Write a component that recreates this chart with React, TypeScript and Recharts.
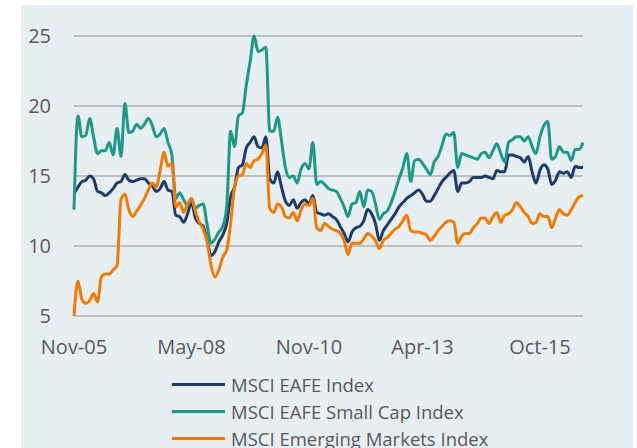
import React from 'react';
import { LineChart, Line, XAxis, YAxis, CartesianGrid, Legend } from 'recharts';

const MONTH_NAMES = ['Jan', 'Feb', 'Mar', 'Apr', 'May', 'Jun', 'Jul', 'Aug', 'Sep', 'Oct', 'Nov', 'Dec'];

// Monthly categories Nov-05 .. Sep-16
const months: string[] = [];
for (let k = 0; k < 131; k++) {
  const m = (10 + k) % 12;
  const y = 2005 + Math.floor((10 + k) / 12);
  months.push(`${MONTH_NAMES[m]}-${String(y % 100).padStart(2, '0')}`);
}

const xTicks = ['Nov-05', 'May-08', 'Nov-10', 'Apr-13', 'Oct-15'];
const yTicks = [5, 10, 15, 20, 25];

const eafe = [
  13.75, 14.2, 14.6, 14.7, 15.0, 14.8, 13.9, 13.8, 13.6, 13.8,
  14.1, 14.5, 14.6, 15.1, 14.7, 14.6, 14.7, 14.8, 14.8, 14.5,
  14.3, 13.9, 14.1, 14.6, 14.0, 13.9, 12.2, 12.1, 11.7, 12.3,
  13.1, 12.0, 11.6, 11.4, 10.4, 9.3, 9.6, 10.3, 10.8, 11.6,
  13.5, 14.2, 15.6, 15.8, 17.0, 17.4, 17.8, 17.1, 17.0, 17.8,
  14.8, 14.5, 15.3, 14.2, 13.2, 12.9, 13.3, 12.7, 13.1, 13.3,
  13.0, 13.6, 12.4, 12.3, 12.2, 12.3, 12.1, 11.9, 11.4, 10.9,
  10.3, 11.0, 11.3, 11.4, 11.8, 12.6, 12.3, 11.6, 10.4, 11.1,
  11.5, 11.9, 12.3, 12.8, 13.1, 13.4, 13.6, 13.8, 14.0, 13.7,
  13.2, 13.2, 13.6, 14.1, 14.6, 14.9, 15.2, 15.4, 13.9, 14.5,
  14.5, 14.6, 14.9, 14.9, 14.9, 15.0, 14.9, 14.8, 15.4, 15.3,
  15.3, 16.5, 16.5, 16.4, 16.3, 16.0, 16.4, 15.3, 14.5, 15.4,
  15.8, 15.5, 14.4, 14.7, 15.3, 15.2, 15.3, 14.9, 15.7, 15.6,
  15.6,
];

const smallCap = [
  12.6, 19.3, 17.8, 17.9, 19.1, 17.8, 16.6, 16.8, 16.8, 17.4,
  16.5, 18.4, 16.4, 20.2, 18.1, 18.2, 18.7, 18.4, 18.7, 19.1,
  18.6, 17.8, 18.0, 18.4, 17.4, 16.5, 13.4, 13.8, 13.3, 12.9,
  13.4, 12.7, 12.9, 13.0, 11.5, 10.2, 10.5, 11.0, 11.4, 12.8,
  18.2, 17.1, 19.3, 19.5, 21.5, 23.2, 25.0, 23.9, 24.0, 24.2,
  18.2, 18.2, 19.2, 17.5, 15.6, 14.9, 15.0, 14.5, 15.5, 15.9,
  15.5, 17.4, 14.4, 14.6, 14.4, 14.1, 14.0, 13.9, 13.4, 12.8,
  12.1, 13.0, 13.1, 13.9, 12.8, 14.0, 13.9, 13.0, 11.9, 12.3,
  12.5, 13.1, 13.9, 14.8, 15.6, 16.6, 14.6, 16.1, 16.2, 15.9,
  15.5, 15.1, 16.0, 16.4, 17.2, 18.0, 17.9, 18.1, 15.6, 16.6,
  16.5, 16.4, 16.3, 16.2, 16.6, 16.7, 16.3, 16.8, 17.3, 16.6,
  16.0, 17.4, 17.6, 17.8, 17.8, 17.5, 17.8, 17.1, 16.6, 17.8,
  18.6, 18.9, 16.2, 16.4, 17.1, 16.7, 16.7, 16.1, 16.9, 16.9,
  17.4,
];

const emerging = [
  5.0, 7.5, 6.2, 5.9, 6.1, 6.6, 6.0, 7.8, 8.0, 8.0,
  8.3, 8.6, 13.3, 13.7, 12.6, 12.1, 12.5, 12.9, 13.4, 14.0,
  14.5, 14.2, 15.4, 16.7, 15.7, 15.9, 12.8, 13.1, 12.4, 13.0,
  13.4, 12.5, 11.7, 11.2, 10.3, 8.6, 7.8, 8.3, 9.2, 9.7,
  11.6, 14.2, 15.0, 15.1, 15.9, 15.6, 16.1, 16.2, 16.6, 17.2,
  12.7, 12.4, 13.0, 12.8, 12.1, 12.0, 12.4, 11.8, 12.6, 13.0,
  12.9, 13.4, 11.3, 11.1, 11.6, 11.4, 11.2, 11.1, 10.9, 10.4,
  9.4, 10.2, 10.2, 10.2, 10.5, 10.9, 10.7, 10.4, 9.8, 10.4,
  10.6, 10.9, 11.2, 11.4, 11.8, 12.2, 11.1, 11.0, 11.0, 10.9,
  10.8, 10.4, 10.7, 11.1, 11.4, 11.7, 11.8, 11.7, 10.2, 10.7,
  10.9, 10.9, 11.3, 11.6, 12.0, 12.0, 11.6, 12.1, 12.4, 11.7,
  12.2, 12.3, 12.6, 13.1, 12.8, 12.4, 12.1, 11.6, 11.7, 12.3,
  12.1, 12.1, 11.3, 12.0, 12.6, 12.3, 12.2, 12.6, 13.1, 13.5,
  13.6,
];

const seriesNames = ['MSCI EAFE Index', 'MSCI EAFE Small Cap Index', 'MSCI Emerging Markets Index'];
const seriesColors = ['#1f3b6e', '#1e9987', '#f47b00'];

const data = months.map((m, i) => ({
  month: m,
  eafe: eafe[i],
  smallCap: smallCap[i],
  emerging: emerging[i],
}));

const FONT = '"Open Sans", sans-serif';
const TEXT = '#595959';

const LegendContent = () => (
  <div style={{ fontFamily: FONT, fontSize: 18.5, color: TEXT }}>
    {seriesNames.map((name, i) => (
      <div key={name} style={{ display: 'flex', alignItems: 'center', height: 27, whiteSpace: 'nowrap' }}>
        <div style={{ width: 53, height: 3, background: seriesColors[i], marginRight: 6 }} />
        <span>{name}</span>
      </div>
    ))}
  </div>
);

export default function App() {
  return (
    <div style={{ position: 'absolute', left: 0, top: 0, width: 637, height: 448, background: '#ffffff', overflow: 'hidden' }}>
      <div style={{ position: 'absolute', left: 21, top: 5, width: 612, height: 443, background: '#e7eff3' }} />
      <div style={{ position: 'absolute', left: 0, top: 0 }}>
        <LineChart width={637} height={448} data={data} margin={{ top: 36, right: 54, bottom: 0, left: 0 }}>
          <CartesianGrid vertical={false} stroke="#bfbfbf" strokeWidth={2} />
          <XAxis
            dataKey="month"
            ticks={xTicks}
            interval={0}
            tickLine={false}
            axisLine={false}
            tickSize={0}
            tickMargin={24}
            height={132}
            tick={{ fill: TEXT, fontSize: 20, fontFamily: FONT }}
          />
          <YAxis
            domain={[5, 25]}
            ticks={yTicks}
            interval={0}
            width={74}
            tickLine={false}
            axisLine={false}
            tickSize={0}
            tickMargin={23}
            tick={{ fill: TEXT, fontSize: 20, fontFamily: FONT }}
          />
          <Legend
            layout="horizontal"
            verticalAlign="middle"
            align="center"
            content={<LegendContent />}
            wrapperStyle={{ left: 172, top: 371, width: 330, height: 81 }}
          />
          <Line type="monotone" dataKey="eafe" name={seriesNames[0]} stroke={seriesColors[0]} strokeWidth={3} dot={false} isAnimationActive={false} />
          <Line type="monotone" dataKey="smallCap" name={seriesNames[1]} stroke={seriesColors[1]} strokeWidth={3} dot={false} isAnimationActive={false} />
          <Line type="monotone" dataKey="emerging" name={seriesNames[2]} stroke={seriesColors[2]} strokeWidth={3} dot={false} isAnimationActive={false} />
        </LineChart>
      </div>
    </div>
  );
}
